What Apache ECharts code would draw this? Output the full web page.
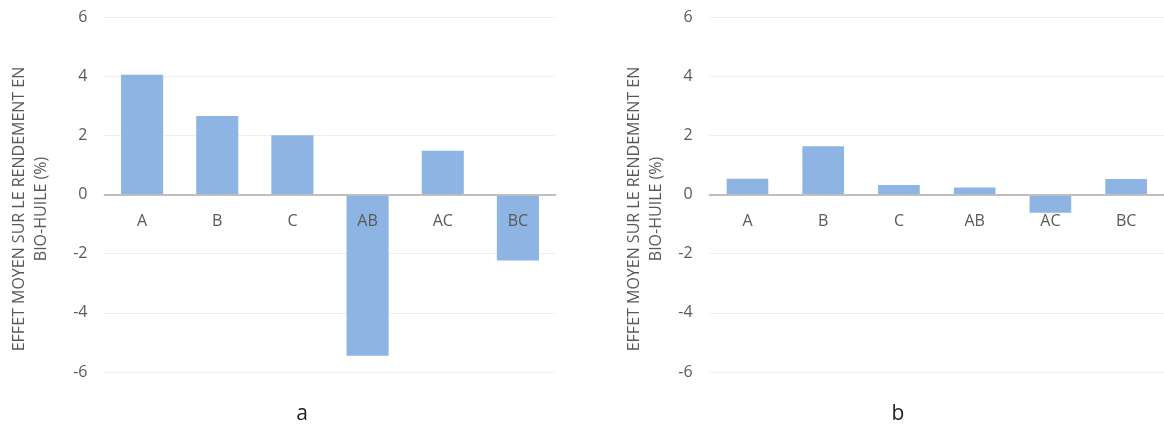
<!DOCTYPE html>
<html>
<head>
<meta charset="utf-8">
<script src="https://cdn.jsdelivr.net/npm/echarts@6/dist/echarts.min.js"></script>
<style>
html,body{margin:0;padding:0;background:#fff;}
#chart{width:1164px;height:430px;}
</style>
</head>
<body>
<div id="chart"></div>
<script>
const categories = ['A', 'B', 'C', 'AB', 'AC', 'BC'];
const valuesA = [4.05, 2.65, 2.0, -5.45, 1.48, -2.23];
const valuesB = [0.53, 1.63, 0.32, 0.24, -0.62, 0.52];
const yMin = -6, yMax = 6, yStep = 2;
const yTitleLine1 = 'EFFET MOYEN SUR LE RENDEMENT EN';
const yTitleLine2 = 'BIO-HUILE (%)';
const panelLabels = ['a', 'b'];

const FONT = '"Open Sans", sans-serif';
const TXT = '#595959';
const BAR = '#8db4e2';
const GRID_TOP = 17, GRID_H = 355;
// shift x axis from the bottom of the grid up to the zero line
const zeroOffset = -GRID_H * (0 - yMin) / (yMax - yMin);

function xAxisCfg(i) {
  return {
    type: 'category', gridIndex: i, data: categories, z: 10,
    offset: zeroOffset,
    axisLine: { onZero: false, lineStyle: { color: '#bfbfbf', width: 2 } },
    axisTick: { show: false },
    axisLabel: { color: TXT, fontSize: 16, fontFamily: FONT, margin: 18.5 }
  };
}
function yAxisCfg(i) {
  return {
    type: 'value', gridIndex: i, min: yMin, max: yMax, interval: yStep,
    axisLine: { show: false }, axisTick: { show: false },
    splitLine: { lineStyle: { color: '#eeeeee', width: 1 } },
    axisLabel: { color: TXT, fontSize: 16, fontFamily: FONT, margin: 17 }
  };
}
function yTitle(x1, x2, y) {
  return [
    { type: 'text', x: x1, y: y, rotation: Math.PI / 2,
      style: { text: yTitleLine1, fill: TXT, font: '16px ' + FONT, textAlign: 'center', textVerticalAlign: 'middle' } },
    { type: 'text', x: x2, y: y, rotation: Math.PI / 2,
      style: { text: yTitleLine2, fill: TXT, font: '16px ' + FONT, textAlign: 'center', textVerticalAlign: 'middle' } }
  ];
}

const chart = echarts.init(document.getElementById('chart'), null, { renderer: 'canvas' });
chart.setOption({
  animation: false,
  backgroundColor: '#fff',
  grid: [
    { left: 104.5, top: GRID_TOP, width: 451, height: GRID_H },
    { left: 709.6, top: GRID_TOP, width: 461, height: GRID_H }
  ],
  xAxis: [xAxisCfg(0), xAxisCfg(1)],
  yAxis: [yAxisCfg(0), yAxisCfg(1)],
  series: [
    { type: 'bar', xAxisIndex: 0, yAxisIndex: 0, data: valuesA, barWidth: '56%', itemStyle: { color: BAR } },
    { type: 'bar', xAxisIndex: 1, yAxisIndex: 1, data: valuesB, barWidth: '55%', itemStyle: { color: BAR } }
  ],
  graphic: [].concat(
    yTitle(19, 41, 209),
    yTitle(634, 656, 209),
    [
      { type: 'text', x: 302, y: 414, style: { text: panelLabels[0], fill: '#222', font: '21px ' + FONT, textAlign: 'center', textVerticalAlign: 'middle' } },
      { type: 'text', x: 898, y: 414, style: { text: panelLabels[1], fill: '#222', font: '21px ' + FONT, textAlign: 'center', textVerticalAlign: 'middle' } }
    ]
  )
});
</script>
</body>
</html>
